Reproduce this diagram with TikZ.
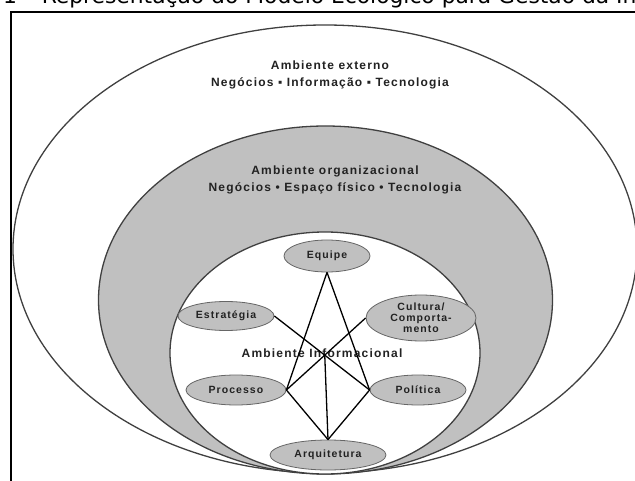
\documentclass[tikz,border=0pt]{standalone}
\usepackage{fontspec}
\setmainfont{Liberation Sans}
\newfontfamily\titlefont{DejaVu Sans}
\newfontfamily\spacedfont[LetterSpace=10]{Liberation Sans}
\usetikzlibrary{shapes.geometric,calc,intersections}
\definecolor{fillgray}{HTML}{C0C0C0}
\definecolor{linegray}{HTML}{404040}
\definecolor{txt}{HTML}{222222}
\tikzset{
  env/.style={draw=linegray,line width=1.3pt},
  item/.style={ellipse,draw=gray!80!black,fill=fillgray,line width=0.8pt,inner sep=0pt,
    font=\spacedfont\bfseries\fontsize{10.5}{11}\selectfont,text=txt,align=center},
  lbl/.style={font=\spacedfont\bfseries\fontsize{12}{17}\selectfont,text=txt,align=center},
  link/.style={draw=black,line width=1.3pt}
}
\begin{document}
\begin{tikzpicture}[x=1pt,y=-1pt]
\useasboundingbox (0,0) rectangle (635,481);
\clip (0,0) rectangle (635,481);
\fill[white] (0,0) rectangle (635,481);
% title (cut off)
\node[anchor=base west,inner sep=0pt,font=\titlefont\fontsize{21.8}{22}\selectfont] (title) at (3,3.5) {1 – Representação do Modelo Ecológico para Gestão da Informação};
% frame
\draw[line width=2pt] (11,490) -- (11,12) -- (645,12);
% environments
\draw[env,fill=white] (325,249) ellipse [x radius=312,y radius=224];
\draw[env,fill=fillgray] (325.5,300) ellipse [x radius=227,y radius=174];
\draw[env,fill=white] (325,353) ellipse [x radius=155,y radius=121];
\node[lbl] (ext) at (330,75) {Ambiente externo\\Negócios ▪ Informação ▪ Tecnologia};
\node[lbl] (org) at (335,180) {Ambiente organizacional\\Negócios • Espaço físico • Tecnologia};
\node[lbl] (inf) at (322,353) {Ambiente Informacional};
% items
\node[item,minimum width=86pt,minimum height=32pt] (equipe) at (327,256) {Equipe};
\node[item,minimum width=96pt,minimum height=29pt] (estr) at (226,316) {Estratégia};
\node[item,minimum width=110pt,minimum height=46pt] (cult) at (421,318) {Cultura/\\Comporta-\\mento};
\node[item,minimum width=100pt,minimum height=30pt] (proc) at (236,390) {Processo};
\node[item,minimum width=96pt,minimum height=30pt] (pol) at (418,390) {Política};
\node[item,minimum width=116pt,minimum height=30pt] (arq) at (328,455) {Arquitetura};
% links
\draw[link] (equipe.south) -- (proc.east);
\draw[link] (equipe.south) -- (pol.west);
\draw[link] (proc.east) -- (arq.north);
\draw[link] (pol.west) -- (arq.north);
\draw[link,name path=l1] (estr.east) -- (pol.west);
\draw[link,name path=l2] (cult.west) -- (proc.east);
\path[name intersections={of=l1 and l2,by=cross}];
\draw[link] (cross) -- (arq.north);
\end{tikzpicture}
\end{document}
